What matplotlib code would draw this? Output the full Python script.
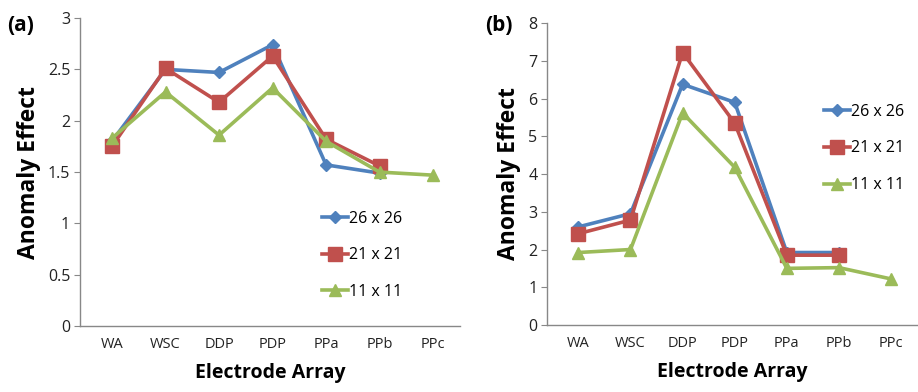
import matplotlib.pyplot as plt
import numpy as np

categories = ['WA', 'WSC', 'DDP', 'PDP', 'PPa', 'PPb', 'PPc']
series_names = ['26 x 26', '21 x 21', '11 x 11']

# panel (a)
a_26 = [1.80, 2.50, 2.47, 2.74, 1.57, 1.49, np.nan]
a_21 = [1.75, 2.51, 2.18, 2.63, 1.82, 1.56, np.nan]
a_11 = [1.83, 2.28, 1.86, 2.32, 1.80, 1.50, 1.47]

# panel (b)
b_26 = [2.60, 2.95, 6.38, 5.90, 1.92, 1.92, np.nan]
b_21 = [2.42, 2.78, 7.22, 5.35, 1.85, 1.85, np.nan]
b_11 = [1.92, 2.00, 5.62, 4.18, 1.50, 1.52, 1.22]

colors = ['#4F81BD', '#C0504D', '#9BBB59']
markers = ['D', 's', '^']
msizes = [6, 10, 9]

plt.rcParams['font.family'] = ['Open Sans', 'DejaVu Sans']

fig = plt.figure(figsize=(9.18, 3.92), dpi=100)
ax1 = fig.add_axes([0.087, 0.168, 0.414, 0.786])
ax2 = fig.add_axes([0.596, 0.171, 0.403, 0.770])


def draw_panel(ax, data, ylim, yticks, ytick_labels, legend_pos, tag, tag_x):
    x = np.arange(len(categories))
    for vals, c, m, ms, name in zip(data, colors, markers, msizes, series_names):
        ax.plot(x, vals, color=c, marker=m, markersize=ms, linewidth=2.6,
                markeredgecolor=c, label=name)
    ax.set_xlim(-0.6, 6.5)
    ax.set_ylim(*ylim)
    ax.set_xticks(x)
    ax.set_xticklabels(categories, fontsize=10.5, color='#222222')
    ax.set_yticks(yticks)
    ax.set_yticklabels(ytick_labels, fontsize=11.5, color='#222222')
    ax.tick_params(axis='x', length=0, pad=8)
    ax.tick_params(axis='y', length=4, color='#888888', direction='out', pad=3)
    for s in ['top', 'right']:
        ax.spines[s].set_visible(False)
    for s in ['left', 'bottom']:
        ax.spines[s].set_color('#888888')
        ax.spines[s].set_linewidth(1.0)
    ax.set_ylabel('Anomaly Effect', fontsize=16.5, fontweight='bold', labelpad=5)
    ax.set_xlabel('Electrode Array', fontsize=14, fontweight='bold', labelpad=8)
    ax.legend(loc='center left', bbox_to_anchor=legend_pos, frameon=False,
              fontsize=11.5, labelspacing=1.3, handlelength=1.6, handletextpad=0.1)
    fig.text(tag_x, 0.935, tag, fontsize=15, fontweight='bold', va='center')


draw_panel(ax1, [a_26, a_21, a_11], (0, 3), [0, 0.5, 1, 1.5, 2, 2.5, 3],
           ['0', '0.5', '1', '1.5', '2', '2.5', '3'], (0.6, 0.23), '(a)', 0.008)
draw_panel(ax2, [b_26, b_21, b_11], (0, 8), list(range(9)),
           [str(i) for i in range(9)], (0.71, 0.585), '(b)', 0.528)

fig.savefig('out.png', dpi=100)
